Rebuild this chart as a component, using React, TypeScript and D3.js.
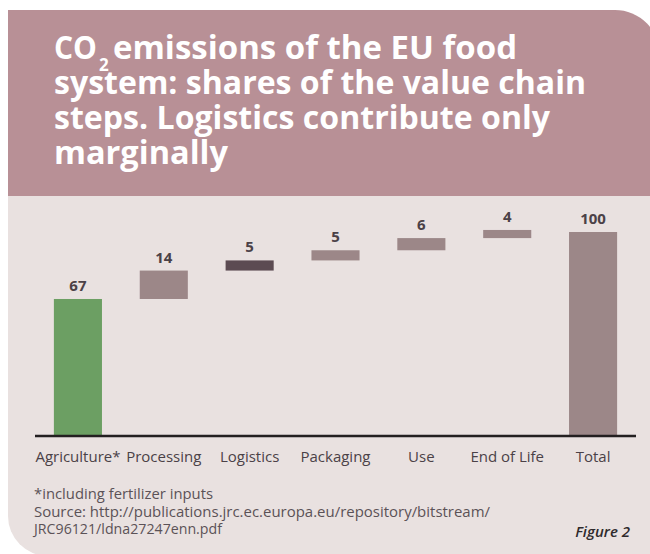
import React from 'react';
import * as d3 from 'd3';

// chart data
const categories = ['Agriculture*', 'Processing', 'Logistics', 'Packaging', 'Use', 'End of Life', 'Total'];
const shares = [67, 14, 5, 5, 6, 4, 100];
const kinds = ['base', 'step', 'highlight', 'step', 'step', 'step', 'total'];

const titleLines = [
  'system: shares of the value chain',
  'steps. Logistics contribute only',
  'marginally',
];
const footnotes = [
  '*including fertilizer inputs',
  'Source: http://publications.jrc.ec.europa.eu/repository/bitstream/',
  'JRC96121/ldna27247enn.pdf',
];

const W = 650;
const H = 554;
const FONT = '"Open Sans", Lato, sans-serif';

const colors: Record<string, string> = {
  base: '#6c9f63',
  step: '#9c8788',
  highlight: '#5c4b52',
  total: '#9c8788',
};

const App = () => {
  const baseY = 435;
  const x = d3.scaleBand<string>()
    .domain(categories)
    .range([35, 636])
    .paddingInner(0.44)
    .paddingOuter(0.22);
  const y = d3.scaleLinear().domain([0, 100]).range([baseY, 232]);

  // waterfall start / end for each bar
  let running = 0;
  const bars = categories.map((c, i) => {
    let start = 0;
    let end = shares[i];
    if (kinds[i] !== 'total') {
      start = running;
      end = running + shares[i];
      running = end;
    }
    return { c, start, end, value: shares[i], kind: kinds[i] };
  });

  const headerPath = `M8,10 H615 A45,45 0 0 1 660,55 V196 H8 Z`;
  const bodyPath = `M8,196 H660 V556 H48 A40,40 0 0 1 8,516 Z`;

  return (
    <div style={{ position: 'absolute', left: 0, top: 0 }}>
      <svg width={W} height={H} style={{ display: 'block' }} fontFamily={FONT}>
        <rect x={0} y={0} width={W} height={H} fill="#ffffff" />
        <path d={headerPath} fill="#b89096" />
        <path d={bodyPath} fill="#e9e1e0" />

        {/* title */}
        <g fill="#ffffff" fontWeight={700} fontSize={32}>
          <text x={54} y={59} textLength={43} lengthAdjust="spacingAndGlyphs">CO</text>
          <text x={99} y={71} fontSize={17}>2</text>
          <text x={113} y={59} textLength={404} lengthAdjust="spacingAndGlyphs">emissions of the EU food</text>
          {titleLines.map((t, i) => (
            <text
              key={t}
              x={54}
              y={94 + i * 35}
              textLength={[532, 496, 174][i]}
              lengthAdjust="spacingAndGlyphs"
            >
              {t}
            </text>
          ))}
        </g>

        {/* bars */}
        {bars.map(b => (
          <rect
            key={b.c}
            x={x(b.c)}
            y={y(b.end)}
            width={x.bandwidth()}
            height={y(b.start) - y(b.end)}
            fill={colors[b.kind]}
          />
        ))}

        {/* value labels */}
        <g fill="#4b4147" fontWeight={700} fontSize={15} textAnchor="middle">
          {bars.map(b => (
            <text key={b.c} x={(x(b.c) as number) + x.bandwidth() / 2} y={y(b.end) - 8}>
              {b.value}
            </text>
          ))}
        </g>

        {/* axis line */}
        <line x1={35} x2={636} y1={baseY + 1} y2={baseY + 1} stroke="#231f20" strokeWidth={2.5} />

        {/* category labels */}
        <g fill="#4b4147" fontSize={15} textAnchor="middle">
          {categories.map(c => (
            <text
              key={c}
              x={(x(c) as number) + x.bandwidth() / 2}
              y={462}
              textLength={c === 'Agriculture*' ? 85 : undefined}
              lengthAdjust="spacingAndGlyphs"
            >
              {c}
            </text>
          ))}
        </g>

        {/* footnotes */}
        <g fill="#5b5257" fontSize={14}>
          {footnotes.map((t, i) => (
            <text
              key={t}
              x={34}
              y={499 + i * 17.5}
              textLength={[179, 456, 188][i]}
              lengthAdjust="spacingAndGlyphs"
            >
              {t}
            </text>
          ))}
        </g>
        <text x={630} y={537} textAnchor="end" fontSize={15} fontStyle="italic" fontWeight={600} fill="#2e2a2c">
          Figure 2
        </text>
      </svg>
    </div>
  );
};

export default App;
